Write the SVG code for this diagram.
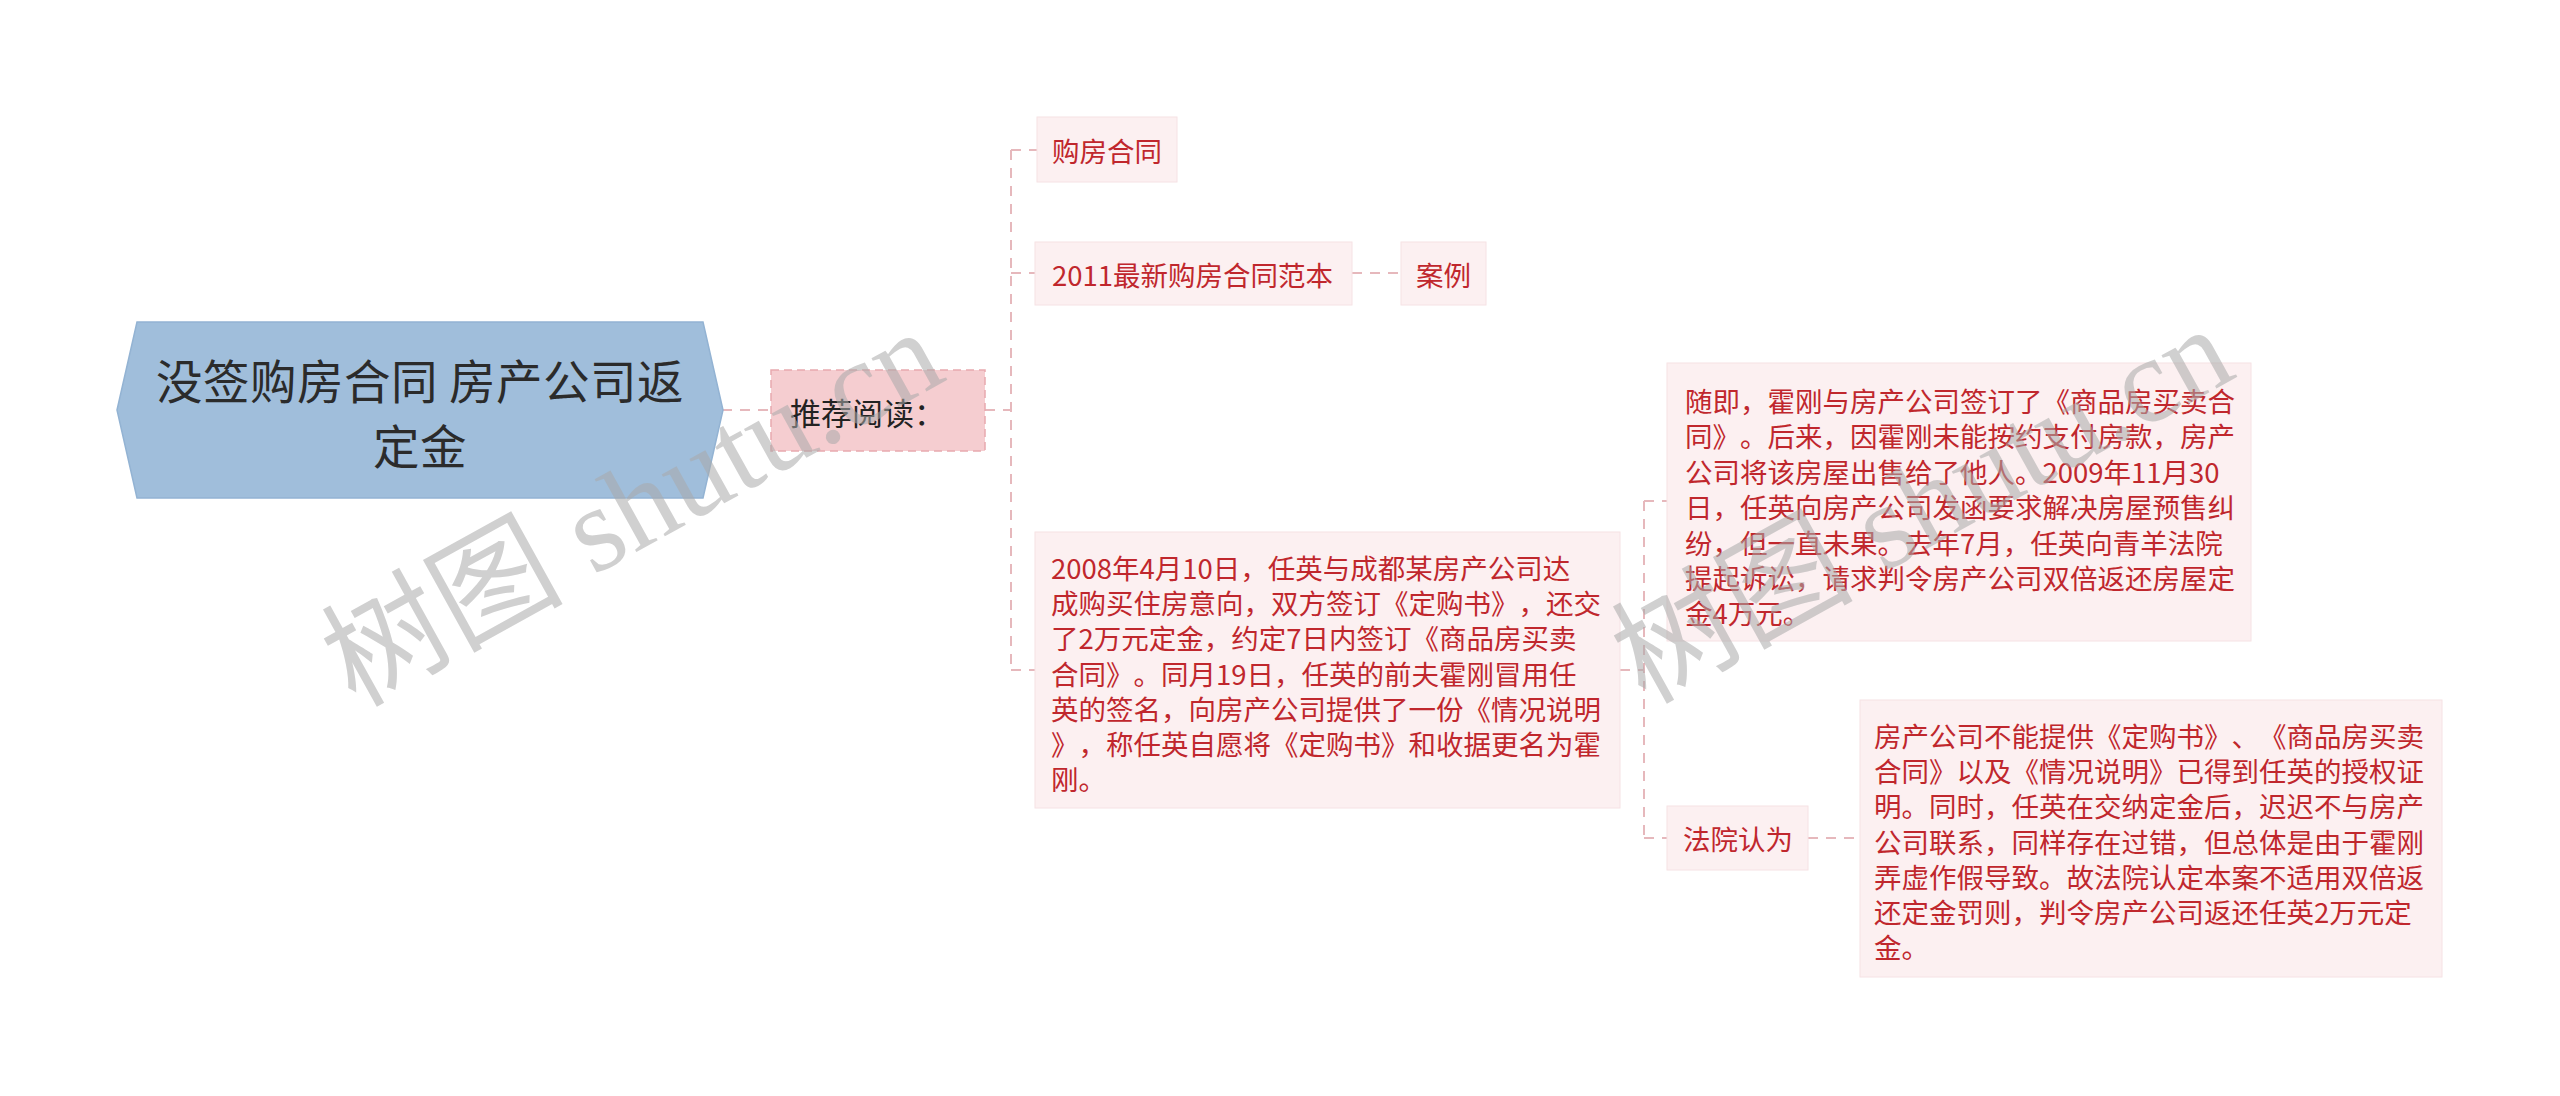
<svg xmlns="http://www.w3.org/2000/svg" width="2560" height="1096" viewBox="0 0 2560 1096">
<style>
.cjk{font-family:"Noto Sans CJK SC","Noto Sans",sans-serif;text-spacing-trim:space-all;}
.leaf rect{fill:#fcf0f1;stroke:#f6e2e4;stroke-width:1;}
.leaf text{fill:#c0272d;font-size:27.5px;dominant-baseline:central;}
.conn path{fill:none;stroke:#e6b8bc;stroke-width:2;stroke-dasharray:10 8;}
.wm{font-family:"Liberation Serif","Noto Sans CJK SC",serif;font-size:121px;fill:#aaaaaa;opacity:0.55;}
</style>
<rect width="2560" height="1096" fill="#ffffff"/>
<g id="connectors" class="conn">
<path d="M722 410 H771"/>
<path d="M985 410 H1011"/>
<path d="M1011 150 V670"/>
<path d="M1011 150 H1037"/>
<path d="M1011 273 H1035"/>
<path d="M1011 670 H1035"/>
<path d="M1352 273 H1401"/>
<path d="M1620 670 H1644"/>
<path d="M1644 501 V838"/>
<path d="M1644 501 H1667"/>
<path d="M1644 838 H1667"/>
<path d="M1808 838 H1860"/>
</g>
<g id="root" class="cjk">
<polygon points="117,410 137,322 703,322 723,410 703,498 137,498" fill="#a0bedb" stroke="#93b3d3" stroke-width="1.5"/>
<text text-anchor="middle" dominant-baseline="central" font-size="46.5" fill="#2b2b2b" letter-spacing="0.5"><tspan x="420" y="378">没签购房合同 房产公司返</tspan><tspan x="420" y="443">定金</tspan></text>
</g>
<g id="tuijian" class="cjk">
<rect x="771" y="370" width="214" height="81" fill="#f5cdd0" stroke="#e8a9ae" stroke-width="1.5" stroke-dasharray="8 5"/>
<text x="790" y="411" dominant-baseline="central" font-size="31" fill="#222222">推荐阅读：</text>
</g>
<g id="goufang" class="leaf cjk">
<rect x="1037" y="117" width="140" height="65"/>
<text x="1052" y="150">购房合同</text>
</g>
<g id="fanben" class="leaf cjk">
<rect x="1035" y="242" width="317" height="63"/>
<text x="1052" y="274">2011最新购房合同范本</text>
</g>
<g id="anli" class="leaf cjk">
<rect x="1401" y="242" width="85" height="63"/>
<text x="1443.5" y="274" text-anchor="middle">案例</text>
</g>
<g id="case1" class="leaf cjk">
<rect x="1035" y="532" width="585" height="276"/>
<text><tspan x="1051" y="567">2008年4月10日，任英与成都某房产公司达</tspan><tspan x="1051" y="602.2">成购买住房意向，双方签订《定购书》，还交</tspan><tspan x="1051" y="637.4">了2万元定金，约定7日内签订《商品房买卖</tspan><tspan x="1051" y="672.6">合同》。同月19日，任英的前夫霍刚冒用任</tspan><tspan x="1051" y="707.8">英的签名，向房产公司提供了一份《情况说明</tspan><tspan x="1051" y="743">》，称任英自愿将《定购书》和收据更名为霍</tspan><tspan x="1051" y="778.2">刚。</tspan></text>
</g>
<g id="case2" class="leaf cjk">
<rect x="1667" y="363" width="584" height="278"/>
<text><tspan x="1685" y="400">随即，霍刚与房产公司签订了《商品房买卖合</tspan><tspan x="1685" y="435.4">同》。后来，因霍刚未能按约支付房款，房产</tspan><tspan x="1685" y="470.8">公司将该房屋出售给了他人。2009年11月30</tspan><tspan x="1685" y="506.2">日，任英向房产公司发函要求解决房屋预售纠</tspan><tspan x="1685" y="541.6">纷，但一直未果。去年7月，任英向青羊法院</tspan><tspan x="1685" y="577">提起诉讼，请求判令房产公司双倍返还房屋定</tspan><tspan x="1685" y="612.4">金4万元。</tspan></text>
</g>
<g id="fayuan" class="leaf cjk">
<rect x="1667" y="806" width="141" height="64"/>
<text x="1683" y="838">法院认为</text>
</g>
<g id="judgement" class="leaf cjk">
<rect x="1860" y="700" width="582" height="277"/>
<text><tspan x="1874" y="735">房产公司不能提供《定购书》、《商品房买卖</tspan><tspan x="1874" y="770.2">合同》以及《情况说明》已得到任英的授权证</tspan><tspan x="1874" y="805.4">明。同时，任英在交纳定金后，迟迟不与房产</tspan><tspan x="1874" y="840.6">公司联系，同样存在过错，但总体是由于霍刚</tspan><tspan x="1874" y="875.8">弄虚作假导致。故法院认定本案不适用双倍返</tspan><tspan x="1874" y="911">还定金罚则，判令房产公司返还任英2万元定</tspan><tspan x="1874" y="946.2">金。</tspan></text>
</g>
<g id="watermarks">
<text class="wm" x="355" y="708" transform="rotate(-29 355 708)">树图 shutu.cn</text>
<text class="wm" x="1645" y="705" transform="rotate(-29 1645 705)">树图 shutu.cn</text>
</g>
</svg>
